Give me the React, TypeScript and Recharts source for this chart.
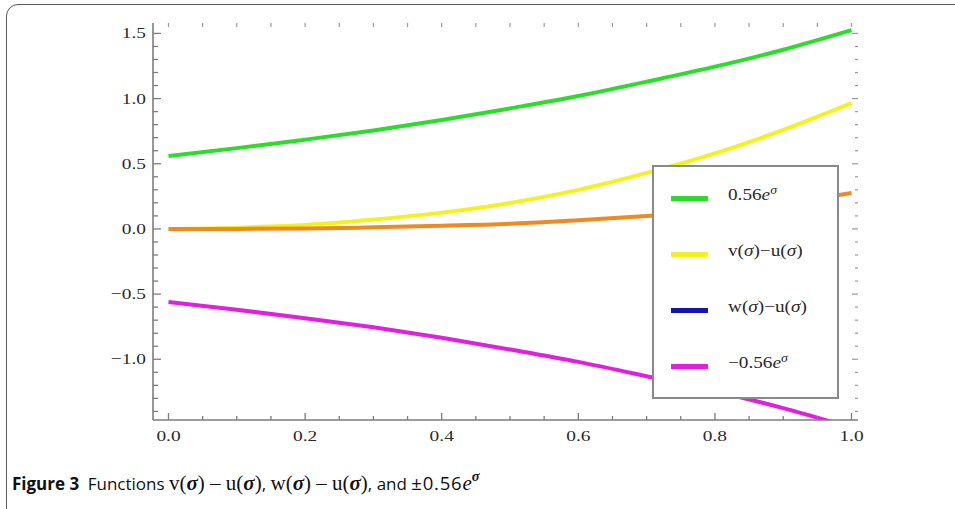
import React from 'react';
import { LineChart, Line, XAxis, YAxis } from 'recharts';

// ---- data ----
const sigma = [0, 0.1, 0.2, 0.3, 0.4, 0.5, 0.6, 0.7, 0.8, 0.9, 1.0];
const posBound = [0.56, 0.62, 0.685, 0.755, 0.835, 0.925, 1.02, 1.13, 1.245, 1.375, 1.525];
const vMinusU = [0, 0.01, 0.03, 0.072, 0.125, 0.2, 0.3, 0.43, 0.58, 0.76, 0.965];
const wMinusU = [0, 0, 0.003, 0.012, 0.024, 0.04, 0.066, 0.1, 0.142, 0.2, 0.276];
const negBound = [-0.56, -0.62, -0.685, -0.755, -0.835, -0.925, -1.02, -1.13, -1.245, -1.375, -1.525];

const xMajorTicks = [0, 0.2, 0.4, 0.6, 0.8, 1.0];
const xMinorTicks = [0.05, 0.1, 0.15, 0.25, 0.3, 0.35, 0.45, 0.5, 0.55, 0.65, 0.7, 0.75, 0.85, 0.9, 0.95];
const yMajorTicks = [-1.0, -0.5, 0, 0.5, 1.0, 1.5];
const yMinorTicks = [-1.4, -1.3, -1.2, -1.1, -0.9, -0.8, -0.7, -0.6, -0.4, -0.3, -0.2, -0.1, 0.1, 0.2, 0.3, 0.4, 0.6, 0.7, 0.8, 0.9, 1.1, 1.2, 1.3, 1.4];

const seriesKeys = ['pos', 'v', 'w', 'neg'];
const seriesColors = ['#2bdc2b', '#f2f21e', '#ee8a20', '#e01fe0'];
const legendLabels = ['0.56e^σ', 'v(σ)−u(σ)', 'w(σ)−u(σ)', '−0.56e^σ'];
const legendColors = ['#2bdc2b', '#f2f21e', '#1414b4', '#e01fe0'];

const X_DOMAIN: [number, number] = [-0.0227, 1.0095];
const Y_DOMAIN: [number, number] = [-1.466, 1.58];

const data = sigma.map((s, i) => ({
  s,
  pos: posBound[i],
  v: vMinusU[i],
  w: wMinusU[i],
  neg: negBound[i],
}));

const xTicks = [...xMajorTicks, ...xMinorTicks].sort((a, b) => a - b);
const yTicks = [...yMajorTicks, ...yMinorTicks].sort((a, b) => a - b);

const isIn = (arr: number[], v: number) => arr.some((m) => Math.abs(m - v) < 1e-6);
const fmt = (v: number) => {
  const s = Math.abs(v).toFixed(1);
  return v < -1e-9 ? '\u2212' + s : s;
};

const AX = '#7d7d7d';
const LABEL = '#2a2a2a';
const SERIF = '"Liberation Serif", "Times New Roman", serif';

const BottomTick = (props: any) => {
  const { x, y, payload } = props;
  const major = isIn(xMajorTicks, payload.value);
  return (
    <g>
      <line x1={x} y1={y} x2={x} y2={y - (major ? 7 : 4)} stroke={AX} strokeWidth={1.3} />
      {major && (
        <text
          transform={`translate(${x},${y + 21}) scale(1.25,1)`}
          textAnchor="middle"
          fontFamily={SERIF}
          fontSize={15.5}
          fill={LABEL}
        >
          {fmt(payload.value)}
        </text>
      )}
    </g>
  );
};

const LeftTick = (props: any) => {
  const { x, y, payload } = props;
  const major = isIn(yMajorTicks, payload.value);
  return (
    <g>
      <line x1={x} y1={y} x2={x + (major ? 8 : 5)} y2={y} stroke={AX} strokeWidth={1.3} />
      {major && (
        <text
          transform={`translate(${x - 7},${y + 5}) scale(1.25,1)`}
          textAnchor="end"
          fontFamily={SERIF}
          fontSize={15.5}
          fill={LABEL}
        >
          {fmt(payload.value)}
        </text>
      )}
    </g>
  );
};

const TopTick = (props: any) => {
  const { x, y } = props;
  return <line x1={x} y1={y} x2={x} y2={y + 4} stroke="#999" strokeWidth={1.2} />;
};

const RightTick = (props: any) => {
  const { x, y, payload } = props;
  const major = isIn(yMajorTicks, payload.value);
  return <line x1={x} y1={y} x2={x - (major ? 6 : 3)} y2={y} stroke="#999" strokeWidth={1.2} />;
};

const MathLabel = ({ text }: { text: string }) => {
  const [base, sup] = text.split('^');
  const parts: React.ReactNode[] = [];
  const chars = Array.from(base);
  chars.forEach((c, i) => {
    if (c === 'σ' || (c === 'e' && sup !== undefined && i === chars.length - 1)) {
      parts.push(<i key={i}>{c}</i>);
    } else {
      parts.push(<span key={i}>{c}</span>);
    }
  });
  return (
    <span>
      {parts}
      {sup !== undefined && (
        <sup style={{ fontSize: '0.72em', fontStyle: 'italic', verticalAlign: '0.55em', lineHeight: 0 }}>{sup}</sup>
      )}
    </span>
  );
};

const Legend = () => (
  <div
    style={{
      position: 'absolute',
      left: 652,
      top: 165,
      width: 187,
      height: 234,
      boxSizing: 'border-box',
      border: '2px solid #8a8a8a',
      background: '#fff',
    }}
  >
    {legendLabels.map((lab, i) => (
      <div
        key={lab}
        style={{ position: 'absolute', left: 0, top: 20 + i * 56, height: 22, width: '100%' }}
      >
        <div
          style={{
            position: 'absolute',
            left: 17,
            top: 9,
            width: 37,
            height: 5,
            background: legendColors[i],
          }}
        />
        <div
          style={{
            position: 'absolute',
            left: 74,
            top: -1,
            fontFamily: SERIF,
            fontSize: 16,
            color: LABEL,
            whiteSpace: 'nowrap',
            transform: 'scale(1.2,1)',
            transformOrigin: 'left center',
          }}
        >
          <MathLabel text={lab} />
        </div>
      </div>
    ))}
  </div>
);

const M = ({ children }: { children: React.ReactNode }) => (
  <span style={{ fontFamily: SERIF, fontSize: 21 }}>{children}</span>
);
const S = () => <i style={{ fontFamily: SERIF, fontWeight: 600 }}>σ</i>;

export default function App() {
  return (
    <div
      style={{
        position: 'absolute',
        left: 0,
        top: 0,
        width: 955,
        height: 509,
        overflow: 'hidden',
        background: '#fff',
      }}
    >
      <div
        style={{
          position: 'absolute',
          left: 6,
          top: 4,
          width: 1000,
          height: 520,
          border: '1.6px solid #5a5a5a',
          borderRadius: 12,
          boxSizing: 'border-box',
        }}
      />
      <div style={{ position: 'absolute', left: 0, top: 0 }}>
        <LineChart width={955} height={509} data={data} margin={{ top: 23, right: 97, bottom: 59, left: 93 }}>
          <XAxis
            xAxisId="bottom"
            dataKey="s"
            type="number"
            domain={X_DOMAIN}
            allowDataOverflow
            ticks={xTicks}
            interval={0}
            tick={<BottomTick />}
            tickLine={false}
            tickSize={0}
            tickMargin={0}
            height={30}
            axisLine={{ stroke: AX, strokeWidth: 1.6 }}
          />
          <XAxis
            xAxisId="top"
            orientation="top"
            mirror
            dataKey="s"
            type="number"
            domain={X_DOMAIN}
            allowDataOverflow
            ticks={xTicks}
            interval={0}
            tick={<TopTick />}
            tickLine={false}
            tickSize={0}
            tickMargin={0}
            height={1}
            axisLine={false}
          />
          <YAxis
            yAxisId="left"
            type="number"
            domain={Y_DOMAIN}
            allowDataOverflow
            ticks={yTicks}
            interval={0}
            tick={<LeftTick />}
            tickLine={false}
            tickSize={0}
            tickMargin={0}
            width={60}
            axisLine={{ stroke: AX, strokeWidth: 1.6 }}
          />
          <YAxis
            yAxisId="right"
            orientation="right"
            mirror
            type="number"
            domain={Y_DOMAIN}
            allowDataOverflow
            ticks={yTicks}
            interval={0}
            tick={<RightTick />}
            tickLine={false}
            tickSize={0}
            tickMargin={0}
            width={1}
            axisLine={false}
          />
          {seriesKeys.map((k, i) => (
            <Line
              key={k}
              xAxisId="bottom"
              yAxisId="left"
              dataKey={k}
              type="monotone"
              stroke={seriesColors[i]}
              strokeWidth={4}
              dot={false}
              activeDot={false}
              isAnimationActive={false}
            />
          ))}
        </LineChart>
      </div>
      <Legend />
      <div
        style={{
          position: 'absolute',
          left: 12,
          top: 470,
          fontFamily: '"Open Sans", sans-serif',
          fontSize: 17,
          color: '#111',
          whiteSpace: 'nowrap',
        }}
      >
        <b>Figure 3</b>
        <span>{'\u2002'}Functions </span>
        <M>
          v(<S />) – u(<S />)
        </M>
        <span>, </span>
        <M>
          w(<S />) – u(<S />)
        </M>
        <span>, and </span>
        <span style={{ fontSize: 18.5, letterSpacing: 0.8 }}>±0.56</span>
        <i style={{ fontFamily: SERIF, fontSize: 21 }}>e</i>
        <sup style={{ fontSize: '0.85em', verticalAlign: '0.6em', lineHeight: 0 }}>
          <S />
        </sup>
      </div>
    </div>
  );
}
